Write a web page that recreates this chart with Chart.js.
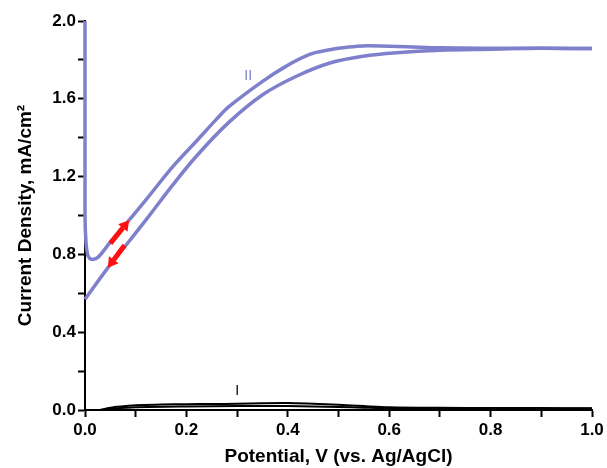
<!DOCTYPE html>
<html>
<head>
<meta charset="utf-8">
<script src="https://cdn.jsdelivr.net/npm/chart.js@4/dist/chart.umd.min.js"></script>
<style>
  html, body { margin: 0; padding: 0; background: #fff; }
  #wrap { width: 607px; height: 468px; }
</style>
</head>
<body>
<div id="wrap"><canvas id="cv" width="607" height="468"></canvas></div>
<script>
// curve II, forward scan (upper branch)
const fwdIIx = [0, 0, 0.002, 0.005, 0.009, 0.015, 0.026, 0.049, 0.087, 0.121, 0.174, 0.220, 0.259, 0.285, 0.351, 0.397, 0.443, 0.483, 0.520, 0.549, 0.600, 0.634, 0.700, 0.800, 0.900, 1.000];
const fwdIIy = [2.0, 1.0, 0.86, 0.80, 0.78, 0.774, 0.786, 0.86, 0.976, 1.083, 1.254, 1.383, 1.494, 1.562, 1.691, 1.768, 1.828, 1.852, 1.866, 1.872, 1.870, 1.868, 1.862, 1.860, 1.860, 1.858];
// curve II, reverse scan (lower branch)
const revIIx = [1.000, 0.900, 0.800, 0.700, 0.614, 0.549, 0.483, 0.417, 0.351, 0.282, 0.220, 0.174, 0.121, 0.082, 0.045, 0];
const revIIy = [1.858, 1.860, 1.855, 1.850, 1.837, 1.819, 1.784, 1.716, 1.622, 1.475, 1.306, 1.160, 0.980, 0.851, 0.731, 0.569];
// curve I
const fwdIx = [0.03, 0.05, 0.08, 0.10, 0.15, 0.20, 0.25, 0.30, 0.35, 0.40, 0.45, 0.50, 0.55, 0.60, 0.70, 0.80, 0.90, 1.00];
const fwdIy = [0, 0.012, 0.020, 0.025, 0.028, 0.030, 0.031, 0.032, 0.035, 0.036, 0.032, 0.027, 0.020, 0.014, 0.011, 0.010, 0.010, 0.009];
const revIx = [1.00, 0.80, 0.60, 0.55, 0.50, 0.40, 0.30, 0.20, 0.10, 0.06, 0.03];
const revIy = [0.008, 0.008, 0.009, 0.012, 0.016, 0.020, 0.020, 0.018, 0.014, 0.008, 0];

// annotations (data coordinates)
const curveLabels = [
  { text: 'II', x: 0.322, y: 1.715, color: '#7f80cc' },
  { text: 'I', x: 0.300, y: 0.095, color: '#000' },
];
const arrows = [
  { from: [0.050, 0.857], to: [0.087, 0.976] },
  { from: [0.078, 0.847], to: [0.045, 0.731] },
];

const pts = (xs, ys) => xs.map((x, i) => ({ x, y: ys[i] }));
const purple = '#7f80cc';

const annot = {
  id: 'annot',
  afterDatasetsDraw(chart) {
    const { ctx, scales: { x, y } } = chart;
    ctx.save();
    ctx.font = '14px "Liberation Sans", Arial, sans-serif';
    ctx.textAlign = 'center';
    ctx.textBaseline = 'middle';
    curveLabels.forEach(l => {
      ctx.fillStyle = l.color;
      ctx.fillText(l.text, x.getPixelForValue(l.x), y.getPixelForValue(l.y));
    });
    // red arrows
    ctx.fillStyle = '#ff1010';
    ctx.strokeStyle = '#ff1010';
    arrows.forEach(a => {
      const x0 = x.getPixelForValue(a.from[0]), y0 = y.getPixelForValue(a.from[1]);
      const x1 = x.getPixelForValue(a.to[0]), y1 = y.getPixelForValue(a.to[1]);
      const ang = Math.atan2(y1 - y0, x1 - x0);
      const head = 10, hw = 6;
      const bx = x1 - head * Math.cos(ang), by = y1 - head * Math.sin(ang);
      ctx.lineWidth = 5;
      ctx.beginPath();
      ctx.moveTo(x0, y0);
      ctx.lineTo(bx, by);
      ctx.stroke();
      ctx.beginPath();
      ctx.moveTo(x1, y1);
      ctx.lineTo(bx + hw * Math.sin(ang), by - hw * Math.cos(ang));
      ctx.lineTo(bx - hw * Math.sin(ang), by + hw * Math.cos(ang));
      ctx.closePath();
      ctx.fill();
    });
    ctx.restore();
  }
};

const tickFont = { family: '"Liberation Sans", Arial, sans-serif', size: 17, weight: 'bold' };
const titleFont = { family: '"Liberation Sans", Arial, sans-serif', size: 19, weight: 'bold' };

new Chart(document.getElementById('cv'), {
  type: 'scatter',
  data: {
    datasets: [
      { data: pts(fwdIx, fwdIy), borderColor: '#000', borderWidth: 2, tension: 0.3 },
      { data: pts(revIx, revIy), borderColor: '#000', borderWidth: 2, tension: 0.3 },
      { data: pts(fwdIIx, fwdIIy), borderColor: purple, borderWidth: 3.5, tension: 0.35 },
      { data: pts(revIIx, revIIy), borderColor: purple, borderWidth: 3.5, tension: 0.35 },
    ].map(d => Object.assign(d, { showLine: true, pointRadius: 0, clip: false }))
  },
  options: {
    responsive: false,
    animation: false,
    events: [],
    layout: { padding: { top: 21, right: 15, left: 0, bottom: 0 } },
    plugins: { legend: { display: false }, tooltip: { enabled: false } },
    scales: {
      x: {
        type: 'linear', min: 0, max: 1,
        afterFit: s => { s.height = 58; },
        border: { color: '#000', width: 2 },
        grid: { drawOnChartArea: false, tickLength: 7, tickWidth: 2, tickColor: '#000' },
        ticks: {
          stepSize: 0.1, autoSkip: false, maxRotation: 0, padding: 3, color: '#000', font: tickFont,
          callback: (v, i) => i % 2 === 0 ? Number(v).toFixed(1) : ''
        },
        title: { display: true, text: 'Potential, V (vs. Ag/AgCl)', color: '#000', font: titleFont, padding: { top: 0, bottom: 0 } }
      },
      y: {
        type: 'linear', min: 0, max: 2,
        afterFit: s => { s.width = 85; },
        border: { color: '#000', width: 2 },
        grid: { drawOnChartArea: false, tickLength: 7, tickWidth: 2, tickColor: '#000' },
        ticks: {
          stepSize: 0.2, autoSkip: false, padding: 2, color: '#000', font: tickFont,
          callback: (v, i) => i % 2 === 0 ? Number(v).toFixed(1) : ''
        },
        title: { display: true, text: 'Current Density, mA/cm²', color: '#000', font: titleFont, padding: { top: 14, bottom: 0 } }
      }
    }
  },
  plugins: [annot]
});
</script>
</body>
</html>
